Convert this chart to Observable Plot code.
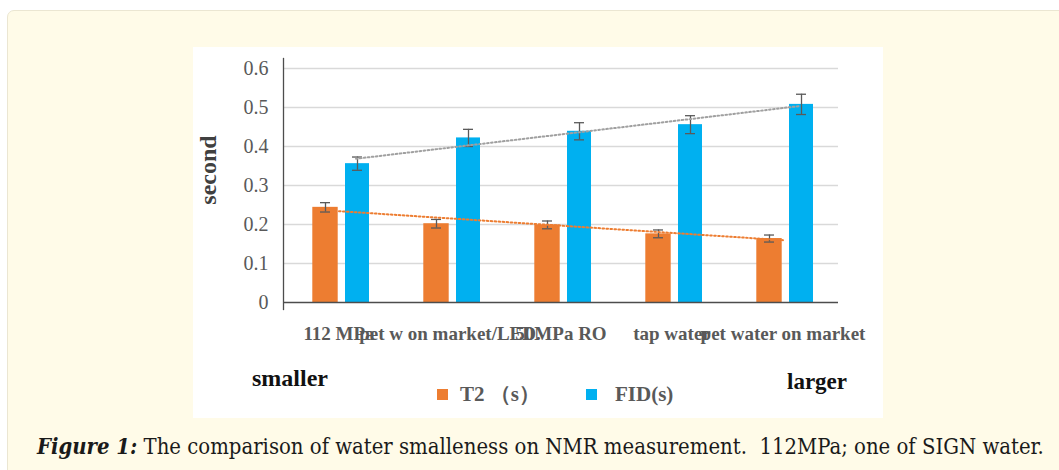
<!DOCTYPE html>
<html>
<head>
<meta charset="utf-8">
<script src="https://cdn.jsdelivr.net/npm/d3@7"></script>
<script src="https://cdn.jsdelivr.net/npm/@observablehq/plot@0.6"></script>
<style>
  html, body { margin: 0; padding: 0; background: #ffffff; width: 1059px; height: 470px; overflow: hidden; }
  #panel { position: absolute; left: 7px; top: 10px; width: 1060px; height: 470px; background: #fffbe8; border: 1.5px solid #ebe6d2; border-radius: 7px; box-sizing: border-box; }
  #chartbox { position: absolute; left: 193px; top: 47px; width: 690px; height: 371px; background: #ffffff; }
  #chart { position: absolute; left: 0; top: 0; }
  .lbl { position: absolute; font-family: "Liberation Serif", "Times New Roman", serif; font-weight: bold; white-space: nowrap; line-height: 1; }
  .sw { position: absolute; width: 11px; height: 11px; }
  #ylabel { position: absolute; left: 15px; top: 123px; transform: translate(-50%, -50%) rotate(-90deg); font-size: 24px; color: #404040; }
  #caption { position: absolute; left: 37px; top: 433px; font-family: "DejaVu Serif Condensed", "DejaVu Serif", serif; font-stretch: condensed; font-size: 21.9px; color: #1a1a1a; white-space: nowrap; }
  #caption b { font-style: italic; }
</style>
</head>
<body>
<div id="panel"></div>
<div id="chartbox">
  <div id="chart"></div>
  <div id="ylabel" class="lbl">second</div>
  <div class="lbl" style="left:59px; top:319px; font-size:24px; color:#111;">smaller</div>
  <div class="lbl" style="left:594px; top:323px; font-size:23px; color:#111;">larger</div>
  <div class="sw" style="left:244px; top:342px; background:#ed7d31;"></div>
  <div class="lbl" style="left:267px; top:337px; font-size:21px; color:#595959;">T2 （s）</div>
  <div class="sw" style="left:393px; top:342px; background:#00b0f0;"></div>
  <div class="lbl" style="left:422px; top:337px; font-size:21px; color:#595959;">FID(s)</div>
</div>
<div id="caption"><b>Figure 1:</b> The comparison of water smalleness on NMR measurement.&nbsp; 112MPa; one of SIGN water.</div>
<script>
const categories = ["112 MPa", "pet w on market/LED.", "50MPa RO", "tap water", "pet water on market"];
const t2Values   = [0.244, 0.202, 0.199, 0.176, 0.164];
const t2Errors   = [0.012, 0.011, 0.010, 0.010, 0.009];
const fidValues  = [0.356, 0.422, 0.439, 0.456, 0.508];
const fidErrors  = [0.017, 0.022, 0.022, 0.023, 0.026];
const yTicks     = [0, 0.1, 0.2, 0.3, 0.4, 0.5, 0.6];

const data = categories.map((c, i) => ({cat: c, t2: t2Values[i], t2e: t2Errors[i], fid: fidValues[i], fide: fidErrors[i]}));

function linFit(vals) {
  const xs = vals.map((_, i) => i + 1);
  const mx = d3.mean(xs), my = d3.mean(vals);
  const slope = d3.sum(xs, (x, i) => (x - mx) * (vals[i] - my)) / d3.sum(xs, x => (x - mx) ** 2);
  return categories.map((c, i) => ({cat: c, v: my + slope * (xs[i] - mx)}));
}
const t2Fit = linFit(t2Values);
const fidFit = linFit(fidValues);

const ORANGE = "#ed7d31", BLUE = "#00b0f0", ERR = "#5a5a5a";
const oL = 29.3, oR = 56.3, bL = 62, bR = 25;
const oDx = -13.5, bDx = 18.5;

const plot = Plot.plot({
  width: 690,
  height: 310,
  marginLeft: 90,
  marginRight: 45,
  marginTop: 21,
  marginBottom: 55,
  style: {fontFamily: "'Liberation Serif', 'Times New Roman', serif", background: "transparent", overflow: "visible"},
  x: {domain: categories, padding: 0, axis: null},
  y: {domain: [0, 0.6], axis: null},
  marks: [
    Plot.gridY(yTicks.filter(d => d > 0), {stroke: "#d9d9d9", strokeOpacity: 1, strokeWidth: 1.5}),
    Plot.barY(data, {x: "cat", y: "t2", fill: ORANGE, insetLeft: oL, insetRight: oR}),
    Plot.barY(data, {x: "cat", y: "fid", fill: BLUE, insetLeft: bL, insetRight: bR}),
    Plot.ruleY([0], {stroke: "#4d4d4d", strokeWidth: 1.5}),
    Plot.frame({anchor: "left", stroke: "#4d4d4d", strokeWidth: 1.3, insetTop: -10, insetBottom: -7}),
    Plot.ruleX(data, {x: "cat", y1: d => d.t2 - d.t2e, y2: d => d.t2 + d.t2e, dx: oDx, stroke: ERR, strokeWidth: 1.3}),
    Plot.tickY(data, {x: "cat", y: d => d.t2 - d.t2e, dx: oDx, insetLeft: 50.5, insetRight: 50.5, stroke: ERR, strokeWidth: 1.3}),
    Plot.tickY(data, {x: "cat", y: d => d.t2 + d.t2e, dx: oDx, insetLeft: 50.5, insetRight: 50.5, stroke: ERR, strokeWidth: 1.3}),
    Plot.ruleX(data, {x: "cat", y1: d => d.fid - d.fide, y2: d => d.fid + d.fide, dx: bDx, stroke: ERR, strokeWidth: 1.3}),
    Plot.tickY(data, {x: "cat", y: d => d.fid - d.fide, dx: bDx, insetLeft: 50.5, insetRight: 50.5, stroke: ERR, strokeWidth: 1.3}),
    Plot.tickY(data, {x: "cat", y: d => d.fid + d.fide, dx: bDx, insetLeft: 50.5, insetRight: 50.5, stroke: ERR, strokeWidth: 1.3}),
    Plot.line(t2Fit, {x: "cat", y: "v", stroke: ORANGE, strokeWidth: 2, strokeDasharray: "1.6,2.4"}),
    Plot.line(fidFit, {x: "cat", y: "v", dx: 17, stroke: "#a0a0a0", strokeWidth: 2, strokeDasharray: "1.6,2.4"}),
    Plot.axisY(yTicks, {tickSize: 0, tickPadding: 15, tickFormat: d => d === 0 ? "0" : d.toFixed(1), fontSize: 20, fill: "#595959", label: null}),
    Plot.axisX(categories, {tickSize: 0, tickPadding: 24, fontSize: 19, fontWeight: "bold", fill: "#595959", label: null})
  ]
});
document.getElementById("chart").appendChild(plot);
</script>
</body>
</html>
